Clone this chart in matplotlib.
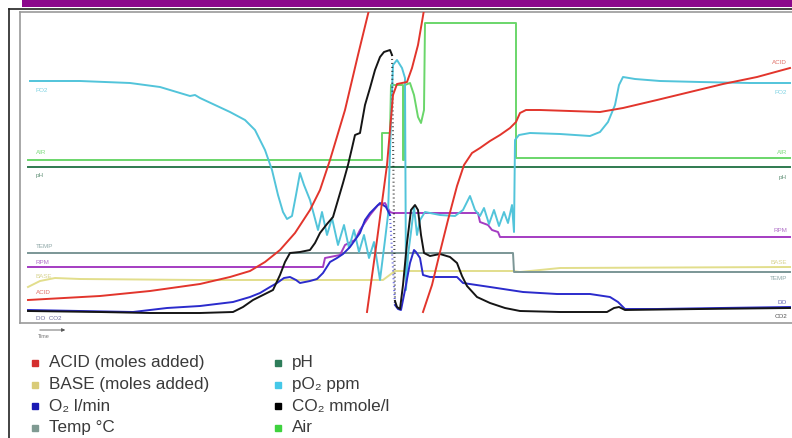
import matplotlib
matplotlib.use("Agg")
import matplotlib.pyplot as plt
import numpy as np
from matplotlib.patches import Rectangle

plt.rcParams['font.family'] = ['Liberation Sans', 'DejaVu Sans']

# ---- process traces: time (run units) and signal level (chart units) ----
po2_t = [30, 80, 130, 160, 190, 195, 200, 230, 245, 255, 265, 272, 278, 283, 287, 292, 296, 300,
         304, 310, 314, 318, 322, 327, 332, 338, 344, 349, 354, 359, 364, 369, 374, 380, 385, 388,
         391, 393, 397, 402, 405, 406, 408, 411, 414, 417, 420, 425, 440, 455, 463, 470, 475, 480,
         484, 489, 494, 499, 504, 508, 512, 514, 515, 519, 530, 560, 590, 600, 608, 615, 619, 623,
         635, 660, 700, 750, 790]
po2_v = [242, 242, 240, 236, 227, 228, 225, 211, 203, 193, 173, 153, 128, 111, 104, 107, 128, 150,
         138, 123, 108, 93, 111, 88, 105, 78, 98, 75, 93, 71, 88, 65, 81, 43, 83, 108,
         203, 258, 263, 255, 245, 33, 68, 91, 116, 88, 103, 111, 108, 107, 113, 127, 113, 107,
         115, 99, 113, 97, 111, 100, 118, 91, 183, 188, 190, 189, 187, 191, 201, 218, 238, 246,
         244, 242, 241, 240, 240]

# acid addition wraps around the scale twice
acid1_t = [28, 100, 150, 200, 230, 250, 265, 280, 295, 310, 320, 330, 345, 358, 369]
acid1_v = [23, 27, 32, 39, 46, 52, 61, 73, 90, 113, 133, 163, 213, 268, 313]
acid2_t = [367, 377, 387, 393, 397, 407, 412, 418, 424]
acid2_v = [11, 83, 158, 228, 239, 241, 255, 278, 313]
acid3_t = [423, 432, 440, 448, 457, 464, 472, 480, 490, 500, 510, 516, 520, 526, 540, 570, 600,
           623, 657, 690, 723, 757, 790]
acid3_v = [11, 38, 71, 103, 137, 158, 170, 175, 182, 188, 195, 201, 210, 213, 213, 212, 211,
           215, 223, 231, 239, 246, 255]

co2_t = [28, 100, 150, 200, 233, 243, 253, 263, 273, 280, 285, 290, 300, 310, 315, 320, 327, 333,
         338, 343, 348, 352, 355, 360, 365, 370, 375, 380, 384, 390, 392, 395, 397, 400, 403, 407,
         411, 415, 418, 421, 424, 430, 440, 450, 457, 462, 467, 477, 490, 505, 520, 560, 607, 614,
         619, 625, 700, 790]
co2_v = [12, 11, 10, 10, 11, 16, 23, 28, 33, 48, 61, 70, 71, 73, 80, 90, 99, 106,
         123, 140, 158, 175, 188, 190, 218, 235, 253, 266, 271, 273, 268, 22, 16, 14, 38, 80,
         113, 118, 113, 88, 70, 67, 69, 66, 60, 47, 37, 26, 20, 15, 12, 11, 11, 15,
         16, 13, 14, 15]

o2_t = [28, 80, 133, 167, 200, 233, 250, 260, 270, 277, 284, 290, 296, 300, 310, 317, 323, 330,
        337, 343, 350, 355, 360, 365, 370, 375, 380, 386, 390, 395, 398, 401, 405, 410, 414, 416,
        420, 423, 430, 457, 463, 490, 523, 557, 590, 610, 618, 625, 657, 720, 790]
o2_v = [13, 12, 11, 15, 17, 21, 26, 30, 36, 40, 45, 46, 43, 40, 42, 44, 50, 61,
        65, 69, 76, 83, 90, 103, 110, 115, 120, 116, 108, 18, 14, 13, 33, 60, 73, 71,
        65, 48, 46, 46, 40, 36, 31, 29, 29, 26, 21, 14, 14, 15, 16]

rpm_t = [28, 323, 325, 340, 345, 355, 360, 370, 378, 385, 390, 393, 445, 478, 480, 488, 492, 498,
         500, 790]
rpm_v = [56, 56, 65, 68, 78, 83, 93, 108, 118, 120, 111, 110, 110, 110, 101, 98, 93, 91,
         86, 86]

temp_t = [28, 513, 514, 790]
temp_v = [70, 70, 51, 51]

base_t = [28, 40, 55, 80, 200, 383, 395, 513, 520, 560, 790]
base_v = [36, 42, 45, 44, 43, 43, 52, 52, 51, 55, 56]

ph_t = [28, 790]
ph_v = [156, 156]

air_t = [28, 382, 382, 390, 391, 403, 403, 404, 405, 410, 414, 418, 421, 424, 425, 516, 516, 790]
air_v = [163, 163, 190, 190, 238, 238, 163, 163, 238, 240, 228, 206, 200, 213, 300, 300, 165, 165]

# in-plot trace tags: (text, level) at the left and right ends
left_tags = [("PO2", 233, '#7fd3e3'), ("AIR", 170, '#7edc7e'), ("pH", 148, '#5f8f75'),
             ("TEMP", 76, '#8fa7a7'), ("RPM", 60, '#b070c8'), ("BASE", 46, '#d8d490'),
             ("ACID", 30, '#e07068'), ("DO  CO2", 5, '#7070a0')]
right_tags = [("ACID", 260, '#e07068'), ("PO2", 231, '#7fd3e3'), ("AIR", 170, '#7edc7e'),
              ("pH", 146, '#5f8f75'), ("RPM", 93, '#b070c8'), ("BASE", 61, '#d8d490'),
              ("TEMP", 45, '#8fa7a7'), ("DO", 21, '#6060b0'), ("CO2", 6, '#505050')]

legend_col1 = ["ACID (moles added)", "BASE (moles added)", "O\u2082 l/min", "Temp \u00b0C"]
legend_col1_colors = ['#d42f2f', '#d9cb78', '#1a1ab4', '#7f9a92']
legend_col2 = ["pH", "pO\u2082 ppm", "CO\u2082 mmole/l", "Air"]
legend_col2_colors = ['#2e7d5a', '#45c8e8', '#000000', '#3ed23e']

W, H = 792, 438
fig = plt.figure(figsize=(W / 100, H / 100), dpi=100)

# page furniture (pixel space)
bg = fig.add_axes([0, 0, 1, 1])
bg.set_xlim(0, W)
bg.set_ylim(H, 0)
bg.axis('off')
bg.add_patch(Rectangle((22, 0), W - 22, 7, color='#8b088b', lw=0))
bg.plot([8.5, W], [9, 9], color='#222222', lw=1.2)
bg.plot([8.5, 8.5], [9, H], color='#222222', lw=1.2)

# main chart
ax = fig.add_axes([20 / W, (H - 323) / H, (W - 20) / W, 311 / H])
ax.set_xlim(20, W)
ax.set_ylim(0, 311)
ax.set_xticks([])
ax.set_yticks([])
for side in ('left', 'top', 'bottom'):
    ax.spines[side].set_color('#9a9a9a')
    ax.spines[side].set_linewidth(1.2)
ax.spines['right'].set_visible(False)

lw = 1.4


def trace_with_fast_drop(t, v, color, z):
    """Plot a trace; its steepest fall (rapid oscillation) is drawn hatched."""
    t = np.asarray(t)
    v = np.asarray(v)
    i = int(np.argmin(np.diff(v)))
    ax.plot(t[:i + 1], v[:i + 1], color=color, lw=lw, zorder=z)
    ax.plot(t[i:i + 2], v[i:i + 2], color=color, lw=1.5, alpha=0.75,
            ls=(0, (0.5, 1.4)), zorder=z)
    ax.plot(t[i + 1:], v[i + 1:], color=color, lw=lw, zorder=z)


ax.plot(base_t, base_v, color='#e2de8c', lw=lw, zorder=2)
ax.plot(temp_t, temp_v, color='#7b9696', lw=lw, zorder=2)
ax.plot(rpm_t, rpm_v, color='#a43cc2', lw=lw, zorder=2)
ax.plot(air_t, air_v, color='#6ad66a', lw=lw, zorder=2)
ax.plot(ph_t, ph_v, color='#2f7a50', lw=lw, zorder=2)
ax.plot(po2_t, po2_v, color='#52c4da', lw=lw, zorder=3)
trace_with_fast_drop(o2_t, o2_v, '#2b2bcc', 4)
trace_with_fast_drop(co2_t, co2_v, '#151515', 4)
for t, v in ((acid1_t, acid1_v), (acid2_t, acid2_v), (acid3_t, acid3_v)):
    ax.plot(t, v, color='#e2352c', lw=lw, zorder=5)

for txt, lvl, col in left_tags:
    ax.text(36, lvl, txt, fontsize=4.5, color=col, va='center', ha='left', zorder=6)
for txt, lvl, col in right_tags:
    ax.text(787, lvl, txt, fontsize=4.5, color=col, va='center', ha='right', zorder=6)

# time arrow
bg.annotate('', xy=(68, 330), xytext=(37, 330),
            arrowprops=dict(arrowstyle='-|>', color='#555555', lw=0.6, mutation_scale=5))
bg.text(38, 336, "Time", fontsize=4, color='#777777', va='center', ha='left')

# legend
row_y0, row_dy = 363, 21.5
for i, (lab, col) in enumerate(zip(legend_col1, legend_col1_colors)):
    y = row_y0 + i * row_dy
    bg.plot([35], [y], marker='s', ms=4.5, color=col, mec=col)
    bg.text(49, y, lab, fontsize=12.3, color='#3a3a3a', va='center', ha='left')
for i, (lab, col) in enumerate(zip(legend_col2, legend_col2_colors)):
    y = row_y0 + i * row_dy
    bg.plot([278], [y], marker='s', ms=4.5, color=col, mec=col)
    bg.text(292, y, lab, fontsize=12.3, color='#3a3a3a', va='center', ha='left')

fig.savefig('out.png', dpi=100)
